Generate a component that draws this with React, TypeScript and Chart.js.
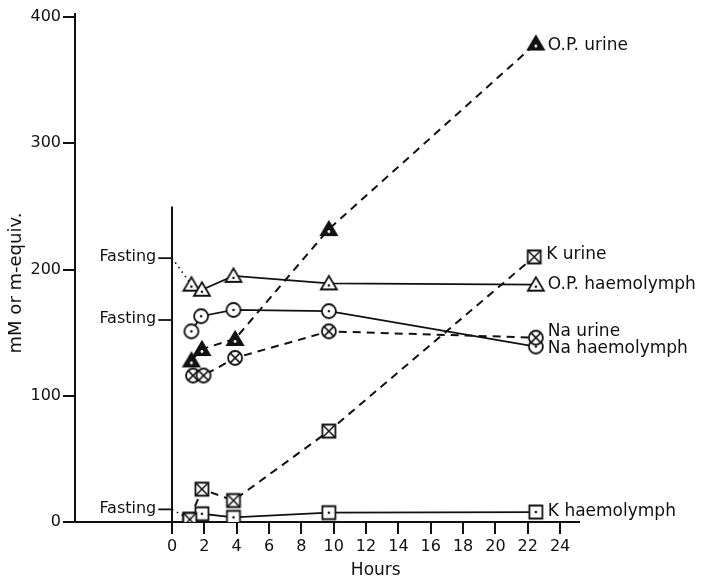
import React, { useEffect, useRef } from "react";
import { Chart, registerables } from "chart.js";

Chart.register(...registerables);

const FONT = "'DejaVu Sans', 'Liberation Sans', sans-serif";
const INK = "#111";

// ---- axis ticks ----
const xTickValues = [0, 2, 4, 6, 8, 10, 12, 14, 16, 18, 20, 22, 24];
const yTickValues = [0, 100, 200, 300, 400];

// ---- series (hours after feeding, mM or m-equiv.) ----
const opUrineHours = [1.2, 1.85, 3.9, 9.7, 22.5];
const opUrineValues = [128, 137, 145, 232, 379];

const kUrineHours = [1.1, 1.85, 3.8, 9.7, 22.4];
const kUrineValues = [2, 26, 17, 72, 210];

const opHaemoHours = [1.2, 1.85, 3.8, 9.7, 22.5];
const opHaemoValues = [188, 184, 195, 189, 188];

const naUrineHours = [1.3, 1.95, 3.9, 9.7, 22.5];
const naUrineValues = [116, 116, 130, 151, 146];

const naHaemoHours = [1.2, 1.8, 3.8, 9.7, 22.5];
const naHaemoValues = [151, 163, 168, 167, 139];

const kHaemoHours = [1.1, 1.85, 3.8, 9.7, 22.5];
const kHaemoValues = [2, 6.5, 3.7, 7.4, 7.9];

const seriesNames = [
  "O.P. urine",
  "K urine",
  "O.P. haemolymph",
  "Na urine",
  "Na haemolymph",
  "K haemolymph",
];

// fasting reference levels (O.P., Na, K)
const fastingLabel = "Fasting";
const fastingValues = [209, 160, 10];
const zeroLineTop = 250;

const xTitle = "Hours";
const yTitle = "mM or m-equiv.";

type Kind = "triFill" | "sqX" | "triDot" | "circX" | "circDot" | "sqDot";

function glyph(kind: Kind): HTMLCanvasElement {
  const c = document.createElement("canvas");
  c.width = 20;
  c.height = 20;
  const g = c.getContext("2d")!;
  g.translate(10, 10);
  g.strokeStyle = INK;
  g.fillStyle = "#fff";
  g.lineWidth = 1.8;
  const tri = () => {
    g.beginPath();
    g.moveTo(0, -7.5);
    g.lineTo(8, 6);
    g.lineTo(-8, 6);
    g.closePath();
  };
  const dot = (y = 0) => {
    g.fillStyle = INK;
    g.beginPath();
    g.arc(0, y, 1.3, 0, Math.PI * 2);
    g.fill();
  };
  if (kind === "triDot") {
    tri();
    g.fill();
    g.stroke();
    dot(2);
  } else if (kind === "triFill") {
    tri();
    g.fillStyle = INK;
    g.fill();
    g.stroke();
    g.fillStyle = "#fff";
    g.beginPath();
    g.arc(0, 2.5, 1.4, 0, Math.PI * 2);
    g.fill();
  } else if (kind === "circDot" || kind === "circX") {
    g.beginPath();
    g.arc(0, 0, 7, 0, Math.PI * 2);
    g.fill();
    g.stroke();
    if (kind === "circDot") dot();
    else {
      g.lineWidth = 1.5;
      const r = 4.9;
      g.beginPath();
      g.moveTo(-r, -r);
      g.lineTo(r, r);
      g.moveTo(r, -r);
      g.lineTo(-r, r);
      g.stroke();
    }
  } else {
    g.beginPath();
    g.rect(-6.5, -6.5, 13, 13);
    g.fill();
    g.stroke();
    if (kind === "sqDot") dot();
    else {
      g.lineWidth = 1.5;
      g.beginPath();
      g.moveTo(-6.5, -6.5);
      g.lineTo(6.5, 6.5);
      g.moveTo(6.5, -6.5);
      g.lineTo(-6.5, 6.5);
      g.stroke();
    }
  }
  return c;
}

const pts = (h: number[], v: number[]) => h.map((x, i) => ({ x, y: v[i] }));

export default function App() {
  const ref = useRef<HTMLCanvasElement | null>(null);

  useEffect(() => {
    if (!ref.current) return;

    const DASH = [8, 6];
    const main = (
      label: string,
      h: number[],
      v: number[],
      kind: Kind,
      dashed: boolean
    ) => ({
      label,
      data: pts(h, v),
      showLine: true,
      borderColor: INK,
      borderWidth: dashed ? 2 : 1.8,
      borderDash: dashed ? DASH : [],
      pointStyle: glyph(kind),
      pointRadius: 8,
      pointHoverRadius: 8,
    });

    const helper = (data: { x: number; y: number }[], dash: number[], width: number) => ({
      label: "",
      data,
      showLine: true,
      borderColor: INK,
      borderWidth: width,
      borderDash: dash,
      pointRadius: 0,
      pointHoverRadius: 0,
    });

    const mainSets = [
      main(seriesNames[0], opUrineHours, opUrineValues, "triFill", true),
      main(seriesNames[1], kUrineHours, kUrineValues, "sqX", true),
      main(seriesNames[2], opHaemoHours, opHaemoValues, "triDot", false),
      main(seriesNames[3], naUrineHours, naUrineValues, "circX", true),
      main(seriesNames[4], naHaemoHours, naHaemoValues, "circDot", false),
      main(seriesNames[5], kHaemoHours, kHaemoValues, "sqDot", false),
    ];

    const TICK_H = 0.85; // fasting tick length in hours
    const helpers = [
      helper([{ x: 0, y: 0 }, { x: 0, y: zeroLineTop }], [], 2),
      ...fastingValues.map((f) =>
        helper([{ x: -TICK_H, y: f }, { x: 0, y: f }], [], 1.8)
      ),
      helper([{ x: 0, y: fastingValues[0] }, { x: opHaemoHours[0], y: opHaemoValues[0] }], [1.5, 4], 1.6),
      helper([{ x: 0, y: fastingValues[2] }, { x: kHaemoHours[0], y: kHaemoValues[0] }], [1.5, 4], 1.6),
    ];

    const labelOffsets: Record<string, number> = {
      "O.P. urine": 2,
      "K urine": -2,
      "O.P. haemolymph": 0,
      "Na urine": -6,
      "Na haemolymph": 2,
      "K haemolymph": 0,
    };

    const textPlugin = {
      id: "texts",
      afterDatasetsDraw(chart: any) {
        const ctx = chart.ctx;
        const xs = chart.scales.x;
        const ys = chart.scales.y;
        ctx.save();
        ctx.fillStyle = INK;
        // series end labels
        ctx.font = `17px ${FONT}`;
        ctx.textAlign = "left";
        ctx.textBaseline = "middle";
        mainSets.forEach((ds, i) => {
          const meta = chart.getDatasetMeta(i);
          const p = meta.data[meta.data.length - 1];
          ctx.fillText(ds.label, p.x + 12, p.y + (labelOffsets[ds.label] || 0));
        });
        // fasting labels
        ctx.font = `16px ${FONT}`;
        ctx.textAlign = "right";
        fastingValues.forEach((f) => {
          ctx.fillText(fastingLabel, xs.getPixelForValue(-TICK_H) - 2, ys.getPixelForValue(f) - 1);
        });
        // x title
        ctx.font = `17px ${FONT}`;
        ctx.textAlign = "center";
        ctx.fillText(xTitle, xs.getPixelForValue(12.6), 571);
        // y title
        ctx.save();
        ctx.translate(16, 283);
        ctx.rotate(-Math.PI / 2);
        ctx.font = `18px ${FONT}`;
        ctx.fillText(yTitle, 0, 0);
        ctx.restore();
        ctx.restore();
      },
    };

    const chart = new Chart(ref.current, {
      type: "scatter",
      data: { datasets: [...mainSets, ...helpers] as any },
      options: {
        animation: false,
        responsive: false,
        maintainAspectRatio: false,
        layout: { padding: { top: 14, right: 130, left: 0, bottom: 0 } },
        plugins: {
          legend: { display: false },
          tooltip: { enabled: false },
        },
        scales: {
          x: {
            type: "linear",
            min: -6,
            max: 25.17,
            afterBuildTicks: (s: any) => {
              s.ticks = xTickValues.map((value) => ({ value }));
            },
            afterFit: (s: any) => {
              s.height = 60;
            },
            grid: {
              display: true,
              drawOnChartArea: false,
              drawTicks: true,
              tickLength: 12,
              color: INK,
              lineWidth: 2,
            },
            border: { display: true, color: INK, width: 2 },
            ticks: {
              color: INK,
              font: { family: FONT, size: 16 },
              padding: 3,
              maxRotation: 0,
              autoSkip: false,
            },
          },
          y: {
            type: "linear",
            min: 0,
            max: 402.4,
            afterBuildTicks: (s: any) => {
              s.ticks = yTickValues.map((value) => ({ value }));
            },
            afterFit: (s: any) => {
              s.width = 75;
            },
            grid: {
              display: true,
              drawOnChartArea: false,
              drawTicks: true,
              tickLength: 12,
              color: INK,
              lineWidth: 2,
            },
            border: { display: true, color: INK, width: 2 },
            ticks: {
              color: INK,
              font: { family: FONT, size: 16 },
              padding: 2,
              autoSkip: false,
            },
          },
        },
      },
      plugins: [textPlugin],
    });

    return () => chart.destroy();
  }, []);

  return (
    <div
      style={{
        position: "fixed",
        left: 0,
        top: 0,
        width: 709,
        height: 582,
        background: "#fff",
      }}
    >
      <canvas ref={ref} width={709} height={582} style={{ display: "block", width: 709, height: 582 }} />
    </div>
  );
}
